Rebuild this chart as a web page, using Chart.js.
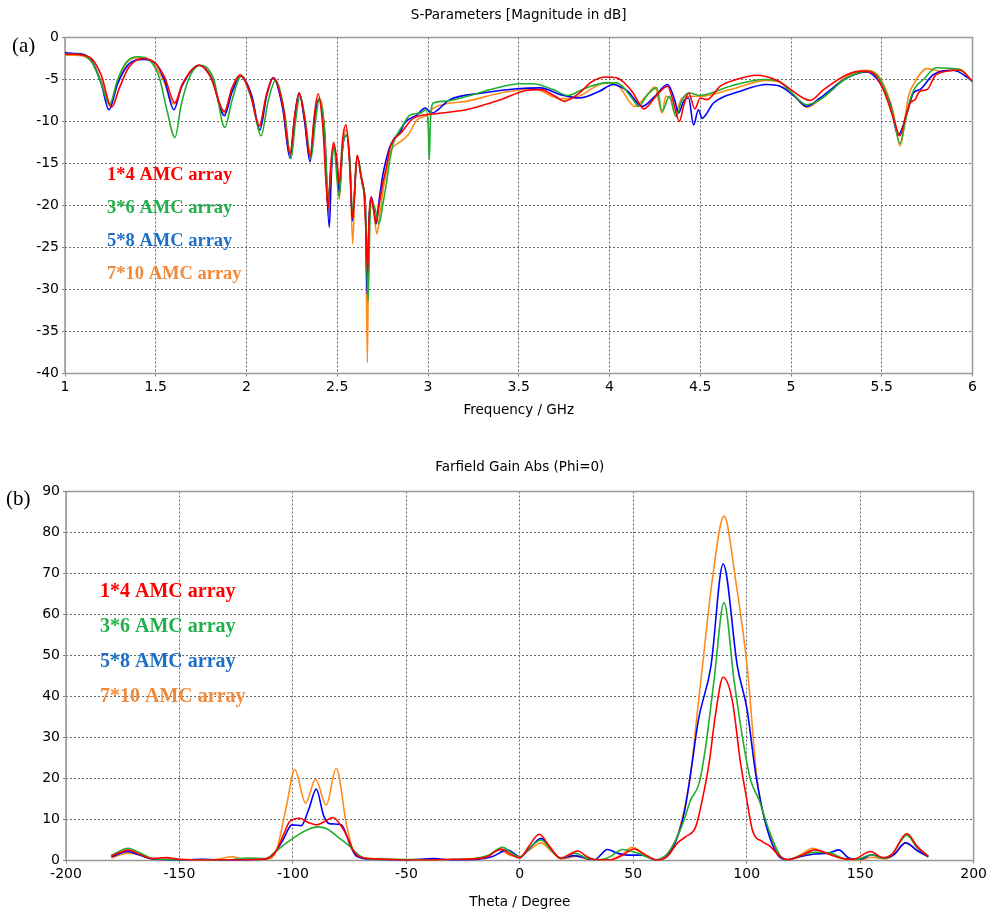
<!DOCTYPE html>
<html>
<head>
<meta charset="utf-8">
<script src="https://cdn.jsdelivr.net/npm/chart.js@4.4.1/dist/chart.umd.min.js"></script>
<style>
  body { margin: 0; background: #fff; width: 989px; height: 916px; position: relative; overflow: hidden; }
  canvas { position: absolute; left: 0; }
  #sparCanvas { top: 0; }
  #gainCanvas { top: 450px; }
  .tag { position: absolute; font-family: "Liberation Serif", "Times New Roman", serif; font-size: 21px; color: #000; line-height: 1; }
</style>
</head>
<body>
<canvas id="sparCanvas" width="989" height="425"></canvas>
<canvas id="gainCanvas" width="989" height="466"></canvas>
<div class="tag" style="left:12px; top:35px;">(a)</div>
<div class="tag" style="left:6px; top:488px;">(b)</div>
<script>
// series names
const arrayNames = ['1*4 AMC array', '3*6 AMC array', '5*8 AMC array', '7*10 AMC array'];

// ---- S11 (dB) vs frequency (GHz) ----
const f14 = [1.00,1.05,1.10,1.15,1.20,1.257,1.30,1.35,1.43,1.50,1.55,1.606,1.65,1.74,1.80,1.878,1.92,1.964,2.02,2.07,2.11,2.148,2.20,2.24,2.265,2.29,2.32,2.35,2.375,2.395,2.42,2.45,2.465,2.48,2.50,2.51,2.53,2.548,2.565,2.585,2.61,2.63,2.645,2.66,2.667,2.675,2.686,2.70,2.714,2.73,2.75,2.77,2.79,2.81,2.85,2.92,3.03,3.21,3.40,3.54,3.62,3.70,3.75,3.835,3.90,3.98,4.04,4.10,4.13,4.19,4.255,4.32,4.35,4.385,4.41,4.436,4.47,4.50,4.537,4.61,4.70,4.81,4.92,5.00,5.05,5.105,5.18,5.31,5.39,5.45,5.50,5.53,5.57,5.60,5.63,5.656,5.683,5.71,5.75,5.80,5.93,6.00];
const s14 = [-2.0,-2.0,-2.1,-2.6,-4.5,-8.3,-6.0,-3.6,-2.5,-3.1,-4.8,-7.8,-5.4,-3.3,-4.6,-8.8,-6.0,-4.5,-6.6,-10.5,-6.8,-4.8,-8.0,-13.8,-9.5,-6.6,-9.5,-14.2,-9.0,-6.7,-10.5,-20.2,-15.0,-12.5,-15.0,-17.4,-12.0,-10.4,-14.0,-21.5,-14.0,-16.5,-18.0,-24.0,-28.0,-22.0,-19.0,-20.5,-22.0,-20.0,-17.5,-15.5,-13.2,-12.2,-11.4,-9.6,-9.1,-8.6,-7.4,-6.3,-6.2,-7.0,-7.6,-6.6,-5.3,-4.7,-4.8,-5.8,-6.6,-8.5,-7.0,-5.8,-7.5,-10.0,-8.0,-6.6,-8.5,-7.2,-7.4,-5.8,-5.0,-4.5,-5.1,-6.2,-7.0,-7.5,-6.2,-4.4,-4.0,-4.2,-5.8,-7.4,-10.0,-11.7,-9.5,-7.8,-7.4,-6.4,-6.2,-4.4,-3.9,-5.2];

const f36 = [1.00,1.05,1.10,1.15,1.20,1.245,1.29,1.34,1.40,1.47,1.52,1.56,1.606,1.64,1.69,1.75,1.82,1.88,1.92,1.97,2.03,2.08,2.12,2.16,2.21,2.245,2.27,2.295,2.325,2.355,2.38,2.40,2.43,2.45,2.465,2.48,2.51,2.53,2.55,2.57,2.585,2.61,2.64,2.655,2.67,2.68,2.69,2.71,2.73,2.75,2.77,2.79,2.81,2.86,2.903,2.958,2.99,3.002,3.007,3.013,3.03,3.086,3.214,3.36,3.506,3.58,3.69,3.77,3.87,3.98,4.04,4.13,4.16,4.21,4.26,4.29,4.33,4.366,4.40,4.44,4.50,4.665,4.85,4.92,5.00,5.087,5.16,5.31,5.42,5.49,5.56,5.60,5.63,5.656,5.683,5.73,5.80,5.93,6.00];
const s36 = [-2.0,-2.0,-2.1,-3.0,-5.5,-8.0,-5.0,-2.9,-2.3,-2.8,-4.8,-8.5,-11.9,-8.0,-4.5,-3.3,-5.0,-10.7,-7.5,-4.6,-7.5,-11.7,-7.5,-5.1,-9.0,-14.4,-10.0,-6.9,-10.0,-14.4,-10.0,-7.4,-11.0,-19.0,-16.0,-12.8,-19.0,-13.0,-11.6,-15.0,-21.0,-14.2,-17.6,-20.0,-31.4,-22.0,-19.5,-20.5,-22.2,-20.0,-17.5,-14.5,-12.5,-10.5,-9.2,-9.0,-8.6,-11.0,-14.6,-10.0,-7.8,-7.6,-7.0,-6.1,-5.5,-5.5,-6.2,-6.9,-6.0,-5.4,-5.4,-7.4,-8.2,-6.8,-6.0,-8.8,-7.0,-9.4,-7.4,-6.6,-6.9,-5.8,-5.0,-5.1,-6.5,-8.0,-7.4,-4.8,-4.0,-5.0,-9.0,-12.6,-10.0,-7.4,-6.0,-5.0,-3.6,-3.8,-5.3];

const f58 = [1.00,1.05,1.10,1.15,1.20,1.242,1.29,1.35,1.43,1.50,1.55,1.60,1.64,1.74,1.81,1.878,1.92,1.97,2.03,2.074,2.11,2.148,2.20,2.24,2.265,2.29,2.32,2.35,2.375,2.40,2.43,2.456,2.468,2.48,2.50,2.511,2.53,2.55,2.57,2.583,2.61,2.64,2.655,2.664,2.675,2.686,2.70,2.714,2.73,2.75,2.77,2.79,2.815,2.848,2.87,2.94,2.985,3.02,3.12,3.30,3.49,3.62,3.73,3.835,3.945,4.02,4.10,4.18,4.25,4.32,4.36,4.38,4.41,4.436,4.463,4.49,4.51,4.573,4.72,4.867,4.94,5.02,5.087,5.16,5.31,5.42,5.49,5.545,5.59,5.64,5.674,5.71,5.785,5.895,6.00];
const s58 = [-1.8,-1.9,-2.0,-2.9,-5.5,-8.6,-5.5,-3.2,-2.6,-3.1,-5.2,-8.6,-6.0,-3.3,-5.0,-9.3,-6.5,-4.6,-7.0,-11.0,-7.0,-4.8,-8.5,-14.4,-9.5,-6.6,-10.0,-14.8,-9.5,-7.4,-11.5,-22.6,-16.0,-12.8,-15.5,-18.5,-13.0,-11.6,-15.0,-21.8,-14.2,-17.6,-20.0,-30.5,-22.0,-19.0,-20.0,-22.2,-19.5,-16.5,-14.5,-13.0,-12.0,-11.2,-10.2,-9.2,-8.4,-9.0,-7.4,-6.6,-6.1,-6.0,-6.8,-7.2,-6.4,-5.6,-6.4,-8.2,-7.0,-5.6,-7.5,-9.0,-7.5,-7.2,-10.4,-8.6,-9.6,-7.8,-6.4,-5.6,-5.8,-7.0,-8.2,-7.2,-4.8,-4.1,-5.4,-7.8,-11.6,-9.0,-6.6,-6.2,-4.4,-3.9,-5.2];

const f710 = [1.00,1.05,1.10,1.15,1.20,1.247,1.29,1.34,1.41,1.48,1.54,1.60,1.645,1.74,1.81,1.878,1.92,1.964,2.02,2.074,2.11,2.148,2.20,2.24,2.265,2.29,2.32,2.35,2.375,2.40,2.43,2.45,2.465,2.48,2.50,2.511,2.53,2.55,2.57,2.585,2.60,2.61,2.64,2.655,2.666,2.674,2.688,2.70,2.718,2.735,2.75,2.77,2.79,2.834,2.848,2.89,2.94,3.00,3.03,3.21,3.40,3.58,3.73,3.82,3.98,4.05,4.14,4.20,4.25,4.29,4.31,4.34,4.36,4.40,4.45,4.50,4.665,4.867,4.94,5.02,5.087,5.16,5.31,5.42,5.49,5.565,5.60,5.647,5.674,5.75,5.82,5.93,6.00];
const s710 = [-2.1,-2.1,-2.2,-3.0,-5.2,-7.9,-5.2,-3.0,-2.4,-2.9,-5.0,-7.9,-5.6,-3.3,-4.8,-9.0,-6.2,-4.4,-6.6,-10.6,-7.0,-4.8,-8.3,-14.0,-9.5,-6.6,-9.8,-14.5,-9.5,-7.2,-11.0,-21.0,-15.5,-12.8,-15.5,-19.3,-13.0,-11.0,-15.0,-24.6,-16.0,-14.2,-17.6,-20.0,-38.7,-22.0,-19.3,-20.5,-23.4,-21.0,-18.6,-16.0,-13.8,-12.6,-12.4,-11.6,-9.8,-9.2,-8.4,-7.6,-6.6,-6.1,-7.3,-7.1,-5.4,-5.8,-8.2,-7.0,-5.9,-9.0,-7.0,-7.5,-9.0,-7.2,-7.0,-7.0,-6.2,-5.1,-5.3,-7.0,-8.3,-7.4,-4.6,-3.9,-4.8,-9.0,-12.9,-7.0,-5.6,-3.7,-4.0,-3.8,-5.3];

// ---- farfield gain vs theta (deg) ----
const t14 = [-180,-176,-172.6,-168,-162,-156,-150,-140,-120,-112,-107.4,-104,-101.4,-97,-93,-89.7,-86,-82.4,-78,-75,-73.6,-70,-60,-50,-40,-30,-20,-14,-8.3,-4,0,4,8.6,13,18.1,22,25.4,30,33,40,45,50.3,55,60.6,65,69.5,73.1,77.5,80.4,83.4,86.3,89.6,93.6,97.3,99.8,102.5,106.9,109.8,115,118,124,130,136,142,147,154.5,160,164,170.6,175,180];
const g14 = [1.1,2.0,2.6,1.6,0.5,0.7,0.3,0.1,0.2,0.4,2.3,6.5,9.5,10.3,9.2,8.7,9.5,10.5,7.8,4.5,2.6,0.8,0.3,0.1,0.1,0.3,0.4,1.0,2.8,1.5,0.6,3.5,6.4,3.5,0.6,1.5,2.3,0.8,0.2,0.2,1.2,2.8,1.5,0.1,1.0,4.3,5.8,8.2,14.8,23.7,35.9,44.7,39.1,23.7,15.6,7.4,4.6,3.7,0.9,0.2,1.2,2.6,1.6,0.5,0.3,2.2,0.7,1.5,6.6,3.5,1.0];

const t36 = [-180,-172.6,-168,-162,-156,-150,-130,-120,-112,-107.4,-104,-100,-94.1,-89,-85.3,-79.4,-75,-72,-68,-60,-40,-20,-14,-7.6,-3,0,4,9.4,14,18.1,24,30,35,40,45.2,52,60,64,68.7,72.4,75.3,79,81.9,85.6,90,94.4,98.8,101.7,105.4,109.8,115,118,124,130,137,142,148,155,160,164,170.6,175,180];
const g36 = [1.3,3.0,2.0,0.5,0.3,0.2,0.1,0.6,0.5,2.3,3.8,5.4,7.4,8.2,7.8,5.4,3.5,1.8,0.5,0.3,0.2,0.5,1.2,3.2,1.6,0.8,3.0,5.0,2.5,0.5,1.8,0.5,0.2,1.0,2.7,1.8,0.2,1.0,5.0,9.9,14.8,18.8,27.8,44.0,62.9,44.0,27.8,19.6,14.8,7.4,1.0,0.2,1.2,2.0,1.8,0.6,0.2,1.4,0.5,1.5,6.2,3.2,1.2];

const t58 = [-180,-172.6,-168,-162,-150,-140,-130,-112,-107.4,-104.4,-100.4,-96.3,-93,-89.7,-86.5,-84,-78.7,-74.5,-72,-65,-50,-38,-30,-20,-12,-5.4,-2,0,4,9.4,14,18.1,24,30,33,38.6,43,48.1,53.9,60,64,67.3,72.4,75.3,78.7,84.2,89.6,95.9,100.2,103.9,108.3,114.2,118,124,130,136,140.6,145,150,155,161,165,170,175,180];
const g58 = [0.9,2.2,1.4,0.4,0.1,0.3,0.1,0.4,2.3,5.0,8.7,8.5,12.5,17.4,11.0,9.0,8.7,3.4,1.1,0.3,0.1,0.5,0.1,0.2,1.0,2.6,1.5,0.8,2.8,5.4,2.5,0.5,1.2,0.4,0.2,2.7,1.8,1.3,1.3,0.1,1.0,2.9,11.5,21.3,34.3,47.3,72.3,47.3,36.7,21.3,9.1,1.0,0.2,1.0,1.6,1.8,2.6,0.6,0.3,1.4,0.6,1.5,4.3,2.5,0.9];

const t710 = [-180,-172.6,-168,-162,-150,-135,-126.4,-122,-112,-107.4,-102.9,-99.2,-94.4,-90,-85.3,-80.9,-76.5,-73.6,-70,-60,-50,-30,-20,-14,-9.2,-4,0,4,9.4,14,18.1,25,30,40,45,49.6,55,60.6,66,70.2,75.3,78,81,84.8,90,95.1,100.2,104.6,109.8,115.6,118,124,129,135,142,150,155,161,165,170,175,180];
const g710 = [0.6,1.8,1.5,0.3,0.1,0.2,0.9,0.3,0.3,2.3,13.1,22.2,14.0,19.8,13.5,22.5,9.1,2.6,0.8,0.4,0.1,0.2,0.4,1.2,2.6,1.2,1.0,2.5,4.3,2.2,0.4,1.0,0.3,0.2,1.5,3.2,1.5,0.1,2.3,7.4,21.3,35.0,50.0,68.4,84.0,68.4,47.3,19.6,6.6,0.6,0.2,1.5,3.0,1.8,0.5,0.1,0.8,0.4,1.5,4.3,2.5,0.8];

const lineColors = ['#ff0000', '#1fae2e', '#0000ff', '#ff8c1a'];
const labelColors = ['#ff0000', '#22b04b', '#1c6fc6', '#f08a3a'];

const sansFont = '"DejaVu Sans", Verdana, sans-serif';

function pairs(xs, ys) {
  return xs.map((x, i) => ({ x: x, y: ys[i] }));
}

function makeSets(groups) {
  return groups.map((g, i) => ({
    label: arrayNames[i],
    data: pairs(g[0], g[1]),
    borderColor: lineColors[i],
    borderWidth: 1.6,
    pointRadius: 0,
    fill: false,
    cubicInterpolationMode: 'monotone'
  }));
}

// coloured series names written inside the plot
const nameList = {
  id: 'nameList',
  afterDatasetsDraw(chart, args, opts) {
    const { ctx, chartArea } = chart;
    ctx.save();
    ctx.font = 'bold ' + opts.size + 'px "Liberation Serif", "Times New Roman", serif';
    ctx.textBaseline = 'middle';
    chart.data.datasets.forEach((ds, i) => {
      ctx.fillStyle = labelColors[i];
      ctx.fillText(ds.label, chartArea.left + opts.dx, chartArea.top + opts.dy + i * opts.gap);
    });
    ctx.restore();
  }
};

// box around the plotting area
const frame = {
  id: 'frame',
  beforeDatasetsDraw(chart) {
    const { ctx, chartArea: a } = chart;
    ctx.save();
    ctx.strokeStyle = '#9a9a9a';
    ctx.lineWidth = 1.5;
    ctx.strokeRect(a.left, a.top, a.right - a.left, a.bottom - a.top);
    ctx.restore();
  }
};

function axis(opts) {
  return {
    type: 'linear',
    min: opts.min,
    max: opts.max,
    afterFit: opts.fit,
    grid: { color: '#6a6a6a', lineWidth: 1, tickLength: 3, tickColor: '#808080' },
    border: { display: false, dash: [2, 2] },
    ticks: {
      stepSize: opts.step,
      color: '#000',
      padding: opts.pad,
      font: { family: sansFont, size: 14 },
      callback: v => String(v)   // 1, 1.5, 2 ... rather than 1.0, 1.5, 2.0
    },
    title: opts.title ? {
      display: true,
      text: opts.title,
      color: '#000',
      font: { family: sansFont, size: 13.5 },
      padding: { top: 0, bottom: opts.titlePad }
    } : { display: false }
  };
}

function makeChart(id, cfg) {
  return new Chart(document.getElementById(id), {
    type: 'line',
    data: { datasets: makeSets(cfg.groups) },
    options: {
      responsive: false,
      animation: false,
      devicePixelRatio: 1,
      layout: { padding: { left: 0, right: cfg.right, top: 0, bottom: 0 } },
      scales: {
        x: axis({ min: cfg.xMin, max: cfg.xMax, step: cfg.xStep, pad: 2, title: cfg.xTitle, titlePad: cfg.xTitlePad, fit: s => { s.height = cfg.xHeight; } }),
        y: axis({ min: cfg.yMin, max: cfg.yMax, step: cfg.yStep, pad: 3, fit: s => { s.width = cfg.yWidth; } })
      },
      plugins: {
        legend: { display: false },
        tooltip: { enabled: false },
        title: {
          display: true,
          text: cfg.title,
          fullSize: false,
          color: '#000',
          font: { family: sansFont, size: 13.5, weight: 'normal' },
          padding: { top: cfg.titleTop, bottom: cfg.titleBottom }
        },
        nameList: cfg.names
      }
    },
    plugins: [frame, nameList]
  });
}

makeChart('sparCanvas', {
  groups: [[f14, s14], [f36, s36], [f58, s58], [f710, s710]],
  title: 'S-Parameters [Magnitude in dB]',
  titleTop: 6.9, titleBottom: 14.4,
  xTitle: 'Frequency / GHz', xTitlePad: 6.9, xHeight: 51.5,
  xMin: 1, xMax: 6, xStep: 0.5,
  yMin: -40, yMax: 0, yStep: 5,
  yWidth: 65, right: 16.5,
  names: { dx: 42, dy: 137.5, gap: 33, size: 18.5 }
});

makeChart('gainCanvas', {
  groups: [[t14, g14], [t36, g36], [t58, g58], [t710, g710]],
  title: 'Farfield Gain Abs (Phi=0)',
  titleTop: 8.9, titleBottom: 16.4,
  xTitle: 'Theta / Degree', xTitlePad: 5.9, xHeight: 55.5,
  xMin: -200, xMax: 200, xStep: 50,
  yMin: 0, yMax: 90, yStep: 10,
  yWidth: 66, right: 14,
  names: { dx: 34, dy: 100.2, gap: 35, size: 20 }
});
</script>
</body>
</html>
